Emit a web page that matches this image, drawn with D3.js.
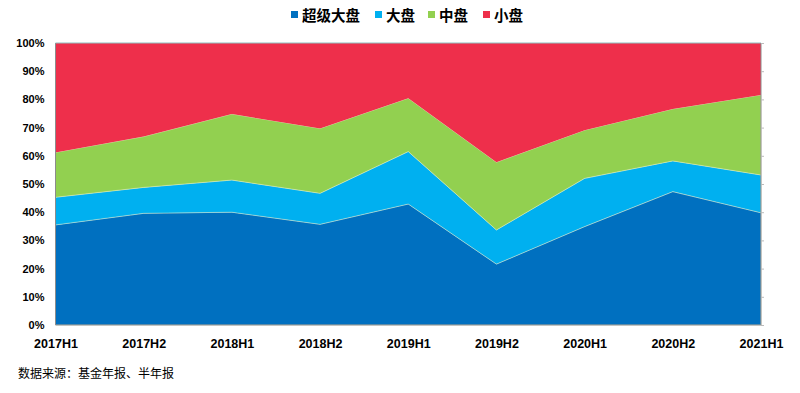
<!DOCTYPE html>
<html><head><meta charset="utf-8">
<script src="https://cdn.jsdelivr.net/npm/d3@7"></script>
<style>body{margin:0;background:#fff;}svg{display:block;}</style>
</head><body>
<svg id="chart" width="800" height="393"></svg>
<script>
const categories = ["2017H1","2017H2","2018H1","2018H2","2019H1","2019H2","2020H1","2020H2","2021H1"];
const seriesNames = ["超级大盘","大盘","中盘","小盘"];
const superLarge = [35.5, 39.6, 40.0, 35.7, 42.9, 21.6, 34.9, 47.3, 39.8];
const large      = [9.8, 9.2, 11.4, 11.0, 18.6, 12.1, 17.1, 10.9, 13.4];
const mid        = [15.9, 18.0, 23.4, 23.0, 18.9, 24.0, 17.1, 18.4, 28.4];
const small      = [38.8, 33.2, 25.2, 30.3, 19.6, 42.3, 30.9, 23.4, 18.4];
const yTicks = [0,10,20,30,40,50,60,70,80,90,100];
const colors = ["#0070C0","#00B0F0","#92D050","#EE2F4B"];

const rows = categories.map((c,i)=>({cat:c, "超级大盘":superLarge[i], "大盘":large[i], "中盘":mid[i], "小盘":small[i]}));
const stacked = d3.stack().keys(seriesNames)(rows);

const svg = d3.select("#chart");
const L = 55.5, R = 761, T = 43, B = 325;
const x = d3.scalePoint().domain(categories).range([L, R]);
const y = d3.scaleLinear().domain([0,100]).range([B, T]);

const area = d3.area().x(d=>x(d.data.cat)).y0(d=>y(d[0])).y1(d=>y(d[1]));
svg.append("g").selectAll("path").data(stacked).join("path")
  .attr("d", area).attr("fill", (d,i)=>colors[i])
  .attr("stroke", (d,i)=> i===3 ? "none" : "#f3f3c8").attr("stroke-width", 0.4);
// redraw tops of fills without stroke overlap issues
// axes frame
svg.append("line").attr("x1",L).attr("x2",L).attr("y1",T).attr("y2",B).attr("stroke","#8c8c8c").attr("stroke-width",1);
svg.append("line").attr("x1",L).attr("x2",R).attr("y1",T).attr("y2",T).attr("stroke","#8fbfbf").attr("stroke-width",1);
svg.append("line").attr("x1",R).attr("x2",R).attr("y1",T).attr("y2",B).attr("stroke","#8c8c8c").attr("stroke-width",1);
svg.append("line").attr("x1",L).attr("x2",R).attr("y1",B).attr("y2",B).attr("stroke","#8c8c8c").attr("stroke-width",1);

// right tick marks
const rAxis = d3.axisRight(y).tickValues(yTicks).tickSize(3).tickFormat("");
const rg = svg.append("g").attr("transform",`translate(${R},0)`).call(rAxis);
rg.select(".domain").remove();
rg.selectAll("line").attr("stroke","#bbbbbb");

// left axis labels
const lAxis = d3.axisLeft(y).tickValues(yTicks).tickSize(0).tickPadding(11).tickFormat(d=>d+"%");
const lg = svg.append("g").attr("transform",`translate(${L},0)`).call(lAxis);
lg.select(".domain").remove();
lg.selectAll("text").attr("font-family","'Liberation Sans', Arial, sans-serif").attr("font-weight","bold")
  .attr("font-size","11px").attr("fill","#000");

// bottom labels
const bAxis = d3.axisBottom(x).tickSize(0).tickPadding(14);
const bg = svg.append("g").attr("transform",`translate(0,${B})`).call(bAxis);
bg.select(".domain").remove();
bg.selectAll("text").attr("font-family","'Liberation Sans', Arial, sans-serif").attr("font-weight","bold")
  .attr("font-size","12.5px").attr("fill","#000");

// legend
const legX = [291, 375, 428, 483];
const lgd = svg.append("g");
seriesNames.forEach((n,i)=>{
  lgd.append("rect").attr("x",legX[i]).attr("y",11).attr("width",7).attr("height",7).attr("fill",colors[i]);
  lgd.append("text").attr("x",legX[i]+11).attr("y",21).text(n)
    .attr("font-family","'Noto Sans CJK SC', sans-serif").attr("font-weight","bold")
    .attr("font-size","14.5px").attr("fill","#000");
});

// source note
svg.append("text").attr("x",18).attr("y",378).text("数据来源：基金年报、半年报")
  .attr("font-family","'Noto Sans CJK SC', sans-serif").attr("font-size","12px").attr("fill","#000");
</script>
</body></html>
